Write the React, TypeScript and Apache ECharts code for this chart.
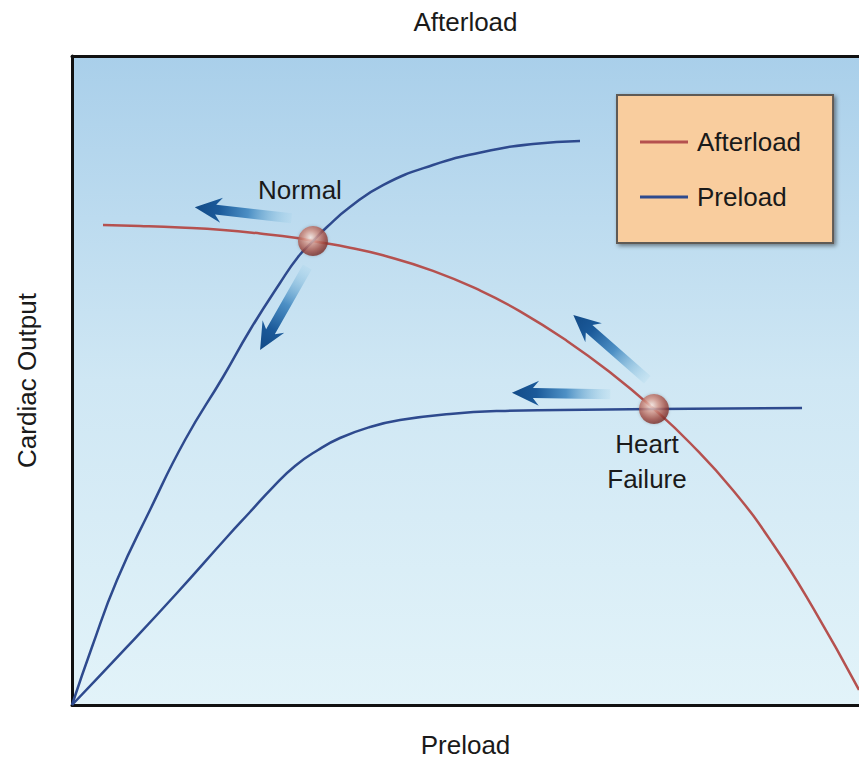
import React, { useEffect, useRef } from "react";
import * as echarts from "echarts";

const FONT = '"Liberation Sans", Arial, Helvetica, sans-serif';

// Curves: [preload, cardiac output] on a 0–100 scale
const normalPreloadCurve: [number, number][] = [
  [0, 0], [2.54, 8.94], [5.72, 19.26], [9.91, 30.05], [14.36, 40.83],
  [19.19, 50.54], [22.62, 57.78], [26.43, 65.02], [28.72, 69.03], [30.62, 71.49],
  [32.4, 73.65], [35.32, 76.73], [39.52, 80.12], [45.87, 83.2], [52.22, 85.21],
  [58.58, 86.44], [64.55, 86.9],
];

const failurePreloadCurve: [number, number][] = [
  [0, 0], [6.99, 8.94], [13.34, 17.26], [19.7, 25.89], [22.62, 29.74],
  [25.54, 33.59], [28.34, 36.83], [31.26, 39.29], [34.05, 41.14], [37.87, 42.84],
  [41.68, 43.91], [48.03, 44.84], [54.38, 45.3], [62.01, 45.45], [73.95, 45.61],
  [92.76, 45.76],
];

const afterloadCurve: [number, number][] = [
  [3.94, 73.96], [8.64, 73.81], [13.72, 73.57], [19.19, 73.19], [23.89, 72.65],
  [28.59, 71.96], [30.62, 71.49], [35.32, 70.46], [39.52, 69.29], [45.87, 66.9],
  [51.84, 63.87], [56.93, 60.66], [62.9, 56.1], [68.36, 51.26], [73.95, 45.61],
  [78.53, 40.37], [83.99, 33.08], [89.07, 24.81], [94.16, 14.95], [100, 2.31],
];

const operatingPoints = [
  { name: "Normal", value: [30.62, 71.49] },
  { name: "Heart Failure", value: [73.95, 45.61] },
];

// Arrows: [tailX, tailY, tipX, tipY]
const shiftArrows: number[][] = [
  [27.9, 75.0, 15.6, 76.7],
  [29.9, 67.5, 23.9, 54.7],
  [73.1, 50.1, 63.7, 60.1],
  [68.4, 47.9, 55.9, 48.1],
];

const legendNames = ["Afterload", "Preload"];

const RED = "#b5514f";
const BLUE = "#2e4a8e";
const TEXT = "#1a1a1a";

export default function App() {
  const ref = useRef<HTMLDivElement>(null);

  useEffect(() => {
    document.body.style.margin = "0";
    const chart = echarts.init(ref.current!, undefined, { renderer: "svg" });

    const renderArrow = (params: any, api: any) => {
      const p0 = api.coord([api.value(0), api.value(1)]);
      const p1 = api.coord([api.value(2), api.value(3)]);
      const dx = p1[0] - p0[0];
      const dy = p1[1] - p0[1];
      const L = Math.sqrt(dx * dx + dy * dy);
      const ux = dx / L, uy = dy / L;
      const vx = -uy, vy = ux;
      const pt = (a: number, b: number) => [p0[0] + ux * a + vx * b, p0[1] + uy * a + vy * b];
      const sw = 5, hl = 21, hw = 12.5, notch = 6;
      const points = [
        pt(0, -sw), pt(L - hl, -sw), pt(L - hl - notch, -hw), pt(L, 0),
        pt(L - hl - notch, hw), pt(L - hl, sw), pt(0, sw),
      ];
      const fill = new echarts.graphic.LinearGradient(
        p0[0], p0[1], p1[0], p1[1],
        [
          { offset: 0, color: "rgba(150,205,230,0.15)" },
          { offset: 0.45, color: "rgba(60,132,190,0.88)" },
          { offset: 0.75, color: "#1b5a9a" },
          { offset: 1, color: "#124a86" },
        ],
        true
      );
      return { type: "polygon", shape: { points }, style: { fill } };
    };

    const labelBase = {
      show: true, fontSize: 26, color: TEXT, fontFamily: FONT,
      textBorderWidth: 0, textShadowBlur: 0, opacity: 1,
    };

    chart.setOption({
      animation: false,
      backgroundColor: "#ffffff",
      textStyle: { fontFamily: FONT },
      grid: {
        left: 72, right: 0, top: 56, bottom: 58,
        show: true,
        borderWidth: 0,
        backgroundColor: new echarts.graphic.LinearGradient(0, 0, 0, 1, [
          { offset: 0, color: "#a9cfea" },
          { offset: 0.5, color: "#cfe7f4" },
          { offset: 1, color: "#e2f3f9" },
        ]),
      },
      legend: {
        orient: "vertical",
        left: 617,
        top: 95,
        padding: [34, 32, 33, 23],
        itemGap: 29,
        itemWidth: 48,
        itemHeight: 3,
        backgroundColor: "#f9cd9e",
        borderColor: "#5f5a55",
        borderWidth: 2,
        shadowColor: "rgba(0,0,0,0.45)",
        shadowBlur: 4,
        shadowOffsetX: 2,
        shadowOffsetY: 2,
        textStyle: { fontSize: 26, color: TEXT, fontFamily: FONT, padding: [0, 0, 0, 4] },
        data: legendNames.map((n) => ({ name: n, icon: "rect" })),
      },
      xAxis: [
        {
          type: "value", min: 0, max: 100, position: "bottom",
          name: "Preload", nameLocation: "middle", nameGap: 27,
          nameTextStyle: { fontSize: 26, color: TEXT, fontFamily: FONT },
          axisLine: { show: true, lineStyle: { color: "#111", width: 3 } },
          axisTick: { show: false }, axisLabel: { show: false }, splitLine: { show: false },
        },
        {
          type: "value", min: 0, max: 100, position: "top",
          name: "Afterload", nameLocation: "middle", nameGap: 21,
          nameTextStyle: { fontSize: 26, color: TEXT, fontFamily: FONT },
          axisLine: { show: true, lineStyle: { color: "#111", width: 3 } },
          axisTick: { show: false }, axisLabel: { show: false }, splitLine: { show: false },
        },
      ],
      yAxis: {
        type: "value", min: 0, max: 100,
        name: "Cardiac Output", nameLocation: "middle", nameGap: 32, nameRotate: 90,
        nameTextStyle: { fontSize: 26, color: TEXT, fontFamily: FONT },
        axisLine: { show: true, lineStyle: { color: "#111", width: 3 } },
        axisTick: { show: false }, axisLabel: { show: false }, splitLine: { show: false },
      },
      series: [
        {
          name: "Afterload", type: "line", color: RED, data: afterloadCurve,
          smooth: true, symbol: "none",
          lineStyle: { color: RED, width: 2.5 }, z: 3,
        },
        {
          name: "Preload", type: "line", color: BLUE, data: normalPreloadCurve,
          smooth: true, symbol: "none",
          lineStyle: { color: BLUE, width: 2.5 }, z: 3,
        },
        {
          name: "Preload", type: "line", color: BLUE, data: failurePreloadCurve,
          smooth: true, symbol: "none",
          lineStyle: { color: BLUE, width: 2.5 }, z: 3,
        },
        {
          name: "Shift", type: "custom", data: shiftArrows,
          encode: { x: [0, 2], y: [1, 3] },
          renderItem: renderArrow, z: 4, silent: true,
        },
        {
          name: "Operating point", type: "scatter",
          symbolSize: 30, z: 5,
          itemStyle: {
            color: {
              type: "radial", x: 0.42, y: 0.38, r: 0.62,
              colorStops: [
                { offset: 0, color: "#fcebe4" },
                { offset: 0.35, color: "#d99a8c" },
                { offset: 0.75, color: "#a44f45" },
                { offset: 1, color: "#7a2e28" },
              ],
            },
            shadowColor: "rgba(0,0,0,0.25)", shadowBlur: 3,
          },
          label: { ...labelBase, formatter: (p: any) => p.name.replace(" ", "\n") },
          emphasis: { disabled: true },
          data: [
            {
              ...operatingPoints[0],
              label: { ...labelBase, position: "top", distance: 23, offset: [-13, 0] },
            },
            {
              ...operatingPoints[1],
              label: { ...labelBase, position: "bottom", distance: 3, offset: [-7, 0], lineHeight: 35 },
            },
          ],
        },
      ],
    });

    return () => chart.dispose();
  }, []);

  return (
    <div
      ref={ref}
      style={{ position: "absolute", left: 0, top: 0, width: 859, height: 763 }}
    />
  );
}
